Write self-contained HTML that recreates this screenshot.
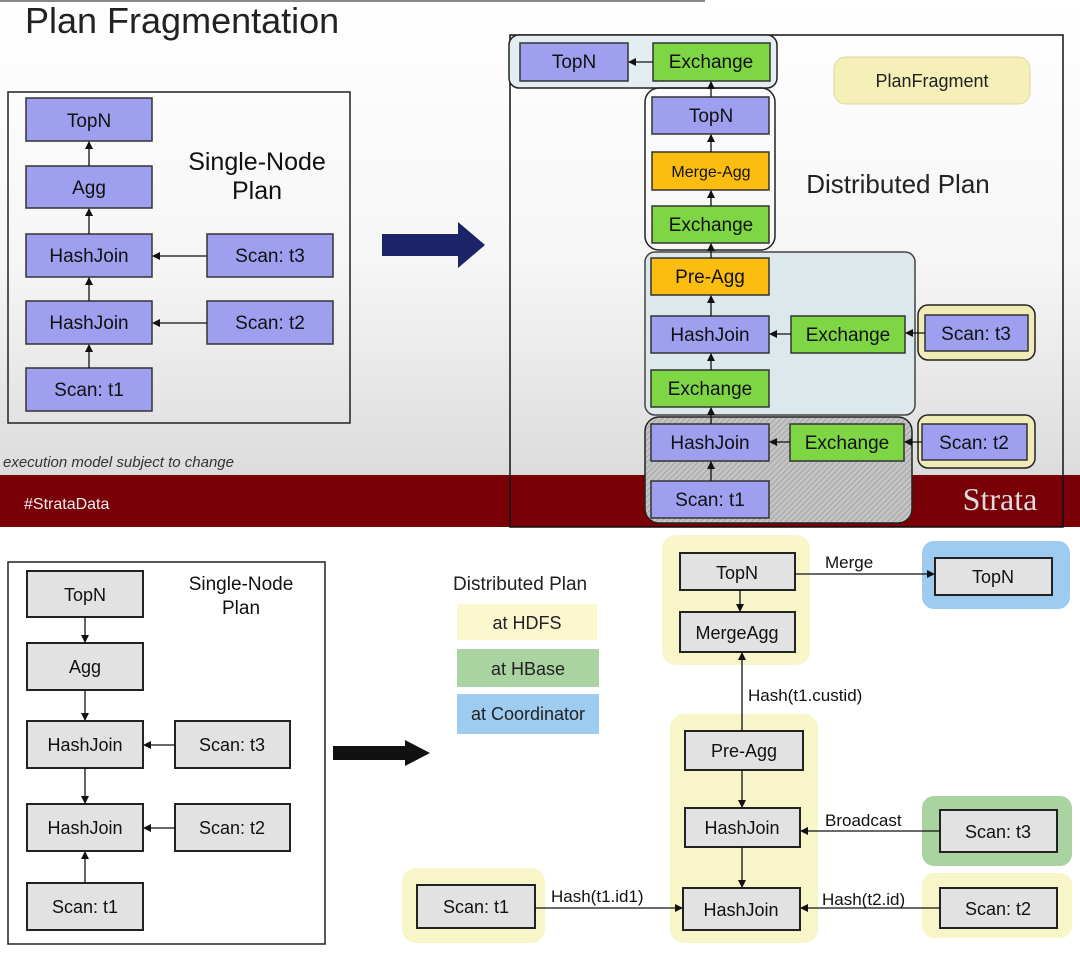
<!DOCTYPE html>
<html><head><meta charset="utf-8"><style>
html,body{margin:0;padding:0;background:#fff}
svg{display:block;font-family:"Liberation Sans",sans-serif}
</style></head><body>
<svg width="1080" height="954" viewBox="0 0 1080 954" xmlns="http://www.w3.org/2000/svg">
<defs>
<linearGradient id="bg" x1="0" y1="0" x2="0" y2="1">
<stop offset="0" stop-color="#ffffff"/><stop offset="0.55" stop-color="#f6f6f6"/><stop offset="1" stop-color="#dcdcdc"/></linearGradient>
<pattern id="hatch" width="4" height="4" patternUnits="userSpaceOnUse" patternTransform="rotate(45)">
<rect width="4" height="4" fill="#c4c4c4"/><line x1="0" y1="0" x2="0" y2="4" stroke="#9a9a9a" stroke-width="1.5"/></pattern>
<marker id="ah" markerWidth="8" markerHeight="8" refX="7" refY="4" orient="auto" markerUnits="userSpaceOnUse"><path d="M0,0 L8,4 L0,8 z" fill="#111"/></marker>
</defs>
<rect x="0" y="0" width="1080" height="475" fill="url(#bg)"/>
<rect x="0" y="0" width="705" height="2" fill="#888"/>
<rect x="0" y="475" width="1080" height="52" fill="#7a0008"/>
<text x="25" y="33" font-size="36" fill="#222">Plan Fragmentation</text>
<text x="3" y="467" font-size="15" font-style="italic" fill="#333">execution model subject to change</text>
<text x="24" y="509" font-size="16" fill="#eee">#StrataData</text>

<g stroke="#333" stroke-width="1.5">
<rect x="8" y="92" width="342" height="331" fill="none" stroke="#222"/>
<rect x="26" y="98" width="126" height="43" fill="#9f9ff0"/>
<rect x="26" y="166" width="126" height="42" fill="#9f9ff0"/>
<rect x="26" y="234" width="126" height="43" fill="#9f9ff0"/>
<rect x="207" y="234" width="126" height="43" fill="#9f9ff0"/>
<rect x="26" y="301" width="126" height="43" fill="#9f9ff0"/>
<rect x="207" y="301" width="126" height="43" fill="#9f9ff0"/>
<rect x="26" y="368" width="126" height="43" fill="#9f9ff0"/>
</g>
<g stroke="#111" stroke-width="1.3" marker-end="url(#ah)">
<line x1="89" y1="166" x2="89" y2="142"/><line x1="89" y1="234" x2="89" y2="209"/>
<line x1="89" y1="301" x2="89" y2="278"/><line x1="89" y1="368" x2="89" y2="345"/>
<line x1="207" y1="256" x2="153" y2="256"/><line x1="207" y1="323" x2="153" y2="323"/>
</g>
<g font-size="19" text-anchor="middle" fill="#111">
<text x="89" y="127">TopN</text><text x="89" y="194">Agg</text><text x="89" y="262">HashJoin</text>
<text x="270" y="262">Scan: t3</text><text x="89" y="329">HashJoin</text><text x="270" y="329">Scan: t2</text>
<text x="89" y="396">Scan: t1</text>
<text x="257" y="170" font-size="25">Single-Node</text><text x="257" y="199" font-size="25">Plan</text>
</g>
<path d="M382,234 L458,234 L458,222 L485,245 L458,268 L458,256 L382,256 z" fill="#1a2466"/>

<rect x="510" y="35" width="553" height="492" fill="none" stroke="#111" stroke-width="1.5"/>
<rect x="834" y="57" width="196" height="47" rx="12" fill="#f5efb8" stroke="#ddd6a0"/>
<text x="932" y="87" font-size="18" text-anchor="middle" fill="#222">PlanFragment</text>
<text x="898" y="193" font-size="26" text-anchor="middle" fill="#222">Distributed Plan</text>
<g stroke="#222" stroke-width="1.5">
<rect x="509" y="35" width="268" height="53" rx="10" fill="#e4eef2"/>
<rect x="645" y="88" width="130" height="162" rx="14" fill="none"/>
<rect x="645" y="252" width="270" height="163" rx="10" fill="#dce8ec" stroke="#444"/>
<rect x="645" y="417" width="267" height="106" rx="14" fill="url(#hatch)"/>
<rect x="918" y="305" width="117" height="55" rx="10" fill="#f1ebb6"/>
<rect x="918" y="415" width="117" height="53" rx="10" fill="#f1ebb6"/>
</g>
<g stroke="#333" stroke-width="1.5">
<rect x="520" y="43" width="108" height="38" fill="#9f9ff0"/>
<rect x="653" y="43" width="117" height="38" fill="#7ed644"/>
<rect x="652" y="97" width="117" height="37" fill="#9f9ff0"/>
<rect x="652" y="152" width="117" height="38" fill="#fbbd10"/>
<rect x="652" y="206" width="117" height="37" fill="#7ed644"/>
<rect x="651" y="258" width="118" height="37" fill="#fbbd10"/>
<rect x="651" y="316" width="118" height="37" fill="#9f9ff0"/>
<rect x="791" y="316" width="114" height="37" fill="#7ed644"/>
<rect x="651" y="370" width="118" height="37" fill="#7ed644"/>
<rect x="925" y="315" width="103" height="36" fill="#9f9ff0"/>
<rect x="651" y="424" width="118" height="37" fill="#9f9ff0"/>
<rect x="790" y="424" width="114" height="37" fill="#7ed644"/>
<rect x="922" y="424" width="105" height="36" fill="#9f9ff0"/>
<rect x="651" y="481" width="118" height="37" fill="#9f9ff0"/>
</g>
<g stroke="#111" stroke-width="1.3" marker-end="url(#ah)">
<line x1="653" y1="62" x2="629" y2="62"/>
<line x1="711" y1="97" x2="711" y2="82"/>
<line x1="711" y1="152" x2="711" y2="135"/>
<line x1="711" y1="206" x2="711" y2="191"/>
<line x1="711" y1="258" x2="711" y2="244"/>
<line x1="711" y1="316" x2="711" y2="296"/>
<line x1="711" y1="370" x2="711" y2="354"/>
<line x1="711" y1="424" x2="711" y2="408"/>
<line x1="711" y1="481" x2="711" y2="462"/>
<line x1="791" y1="334" x2="770" y2="334"/>
<line x1="790" y1="442" x2="770" y2="442"/>
<line x1="925" y1="333" x2="906" y2="333"/>
<line x1="922" y1="442" x2="905" y2="442"/>
</g>
<g font-size="19" text-anchor="middle" fill="#111">
<text x="574" y="68">TopN</text><text x="711" y="68">Exchange</text>
<text x="711" y="122">TopN</text><text x="711" y="177" font-size="16">Merge-Agg</text>
<text x="711" y="231">Exchange</text><text x="710" y="283">Pre-Agg</text>
<text x="710" y="341">HashJoin</text><text x="848" y="341">Exchange</text>
<text x="710" y="395">Exchange</text><text x="976" y="340">Scan: t3</text>
<text x="710" y="449">HashJoin</text><text x="847" y="449">Exchange</text>
<text x="974" y="449">Scan: t2</text><text x="710" y="506">Scan: t1</text>
</g>
<text x="1000" y="510" font-size="32" font-family="Liberation Serif,serif" fill="#ddd" text-anchor="middle">Strata</text>

<rect x="8" y="562" width="317" height="382" fill="none" stroke="#222" stroke-width="1.5"/>
<g stroke="#222" stroke-width="2" fill="#e2e2e2">
<rect x="27" y="571" width="116" height="46"/><rect x="27" y="643" width="116" height="47"/>
<rect x="27" y="721" width="116" height="47"/><rect x="175" y="721" width="115" height="47"/>
<rect x="27" y="804" width="116" height="47"/><rect x="175" y="804" width="115" height="47"/>
<rect x="27" y="883" width="116" height="47"/>
</g>
<g stroke="#111" stroke-width="1.3" marker-end="url(#ah)">
<line x1="85" y1="617" x2="85" y2="642"/><line x1="85" y1="690" x2="85" y2="720"/>
<line x1="85" y1="768" x2="85" y2="803"/><line x1="85" y1="883" x2="85" y2="852"/>
<line x1="175" y1="745" x2="144" y2="745"/><line x1="175" y1="828" x2="144" y2="828"/>
</g>
<g font-size="18" text-anchor="middle" fill="#111">
<text x="85" y="601">TopN</text><text x="85" y="673">Agg</text><text x="85" y="751">HashJoin</text>
<text x="232" y="751">Scan: t3</text><text x="85" y="834">HashJoin</text><text x="232" y="834">Scan: t2</text>
<text x="85" y="913">Scan: t1</text>
<text x="241" y="590" font-size="19">Single-Node</text><text x="241" y="614" font-size="19">Plan</text>
</g>
<path d="M333,746 L405,746 L405,740 L430,753 L405,766 L405,760 L333,760 z" fill="#111"/>

<text x="453" y="590" font-size="19" fill="#222">Distributed Plan</text>
<rect x="457" y="604" width="140" height="36" fill="#fbf8cf"/><text x="527" y="629" font-size="18" text-anchor="middle" fill="#222">at HDFS</text>
<rect x="457" y="649" width="142" height="38" fill="#a9d3a0"/><text x="528" y="675" font-size="18" text-anchor="middle" fill="#222">at HBase</text>
<rect x="457" y="694" width="142" height="40" fill="#9ecbf0"/><text x="528" y="720" font-size="18" text-anchor="middle" fill="#222">at Coordinator</text>

<g>
<rect x="662" y="535" width="148" height="130" rx="14" fill="#f8f5c8"/>
<rect x="922" y="541" width="148" height="68" rx="12" fill="#9ecbf0"/>
<rect x="670" y="714" width="148" height="229" rx="14" fill="#f8f5c8"/>
<rect x="922" y="796" width="150" height="70" rx="12" fill="#a9d3a0"/>
<rect x="922" y="873" width="150" height="65" rx="12" fill="#f8f5c8"/>
<rect x="402" y="868" width="143" height="75" rx="14" fill="#f8f5c8"/>
</g>
<g stroke="#222" stroke-width="2" fill="#e2e2e2">
<rect x="680" y="553" width="115" height="37"/><rect x="680" y="612" width="115" height="40"/>
<rect x="935" y="558" width="117" height="37"/>
<rect x="685" y="731" width="118" height="39"/><rect x="685" y="808" width="115" height="39"/>
<rect x="683" y="888" width="117" height="42"/>
<rect x="940" y="810" width="117" height="42"/><rect x="940" y="888" width="117" height="40"/>
<rect x="417" y="885" width="118" height="43"/>
</g>
<g stroke="#111" stroke-width="1.3" marker-end="url(#ah)">
<line x1="795" y1="574" x2="934" y2="574"/>
<line x1="740" y1="590" x2="740" y2="611"/>
<line x1="742" y1="731" x2="742" y2="653"/>
<line x1="742" y1="770" x2="742" y2="807"/>
<line x1="742" y1="847" x2="742" y2="887"/>
<line x1="940" y1="831" x2="801" y2="831"/>
<line x1="940" y1="908" x2="801" y2="908"/>
<line x1="535" y1="908" x2="682" y2="908"/>
</g>
<g font-size="18" text-anchor="middle" fill="#111">
<text x="737" y="579">TopN</text><text x="737" y="639">MergeAgg</text><text x="993" y="583">TopN</text>
<text x="744" y="757">Pre-Agg</text><text x="742" y="834">HashJoin</text><text x="741" y="916">HashJoin</text>
<text x="998" y="838">Scan: t3</text><text x="998" y="915">Scan: t2</text><text x="476" y="913">Scan: t1</text>
</g>
<g font-size="17" fill="#111">
<text x="825" y="568">Merge</text><text x="748" y="701">Hash(t1.custid)</text>
<text x="825" y="826">Broadcast</text><text x="822" y="905">Hash(t2.id)</text><text x="551" y="902">Hash(t1.id1)</text>
</g>
</svg>
</body></html>
